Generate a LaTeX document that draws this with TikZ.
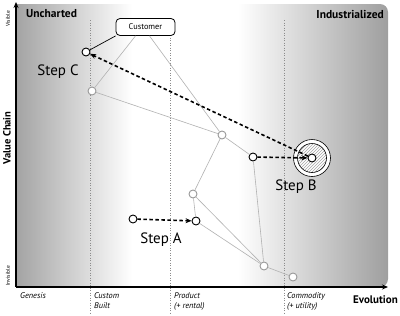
\documentclass[tikz,border=0pt]{standalone}
\usepackage{fontspec}
\setmainfont{PT Sans}
\usetikzlibrary{arrows.meta,patterns}
\begin{document}
\begin{tikzpicture}[x=1pt,y=-1pt,
  comp/.style={circle,draw=black,fill=white,line width=0.9pt,minimum size=8pt,inner sep=0pt},
  gcomp/.style={circle,draw=black!40,fill=white,line width=0.9pt,minimum size=8pt,inner sep=0pt},
  link/.style={draw=black!30,line width=0.6pt},
  move/.style={draw=black,line width=1.6pt,dash pattern=on 3.5pt off 2.5pt,-{Stealth[length=6pt,width=5pt]}},
  guide/.style={draw=black!45,line width=0.5pt,dotted},
  axis/.style={line width=1.8pt,-{Stealth[length=6pt,width=5pt]}},
  steplabel/.style={font=\fontsize{15}{17}\selectfont},
  phase/.style={font=\fontsize{8.3}{10.5}\selectfont\itshape,align=left,anchor=north west,inner sep=0pt},
  corner/.style={font=\fontsize{11.5}{13}\selectfont\bfseries,inner sep=0pt}]
\useasboundingbox (0,0) rectangle (400,316);
% background
\begin{scope}
\clip (16,4) [rounded corners=8pt] -- (388,4) -- (388,287) [sharp corners] -- (16,287) -- cycle;
\fill[white] (16,4) rectangle (388,287);
\shade[left color=black!36,right color=white] (16,4) rectangle (132,287);
\shade[left color=white,right color=black!38] (238,4) rectangle (389,287);
\end{scope}
% guides
\draw[guide] (90,20) -- (90,314);
\draw[guide] (170,20) -- (170,314);
\draw[guide] (284,20) -- (284,314);
% axes
\coordinate (o) at (16,287);
\coordinate (ytop) at (16,2);
\coordinate (xend) at (388,287);
\draw[axis] (o) -- (ytop);
\draw[axis] (o) -- (xend);
% axis labels
\node[corner,anchor=west] (unch) at (26,14) {Uncharted};
\node[corner,anchor=east] (ind) at (384,14) {Industrialized};
\node[corner,rotate=90,font=\fontsize{10.5}{12}\selectfont\bfseries] (vc) at (7,138) {Value Chain};
\node[rotate=90,font=\fontsize{5.5}{6.5}\selectfont,inner sep=0pt] (vis) at (8,19) {Visible};
\node[rotate=90,font=\fontsize{5.5}{6.5}\selectfont,inner sep=0pt] (invis) at (8,276) {Invisible};
\node[corner,anchor=east,font=\fontsize{11}{12}\selectfont\bfseries] (evo) at (398,300) {Evolution};
\node[phase] (gen) at (20,292) {Genesis};
\node[phase] (cust) at (94,292) {Custom\\Built};
\node[phase] (prod) at (174,292) {Product\\(+ rental)};
\node[phase] (comm) at (287,292) {Commodity\\(+ utility)};
% components
\node[draw=black,fill=white,rounded corners=4pt,line width=0.8pt,minimum width=59pt,minimum height=17pt,inner sep=0pt,font=\fontsize{8.3}{9}\selectfont] (customer) at (145.5,27) {Customer};
\node[comp] (c) at (86,52) {};
\node[gcomp] (g1) at (92,91) {};
\node[gcomp] (g2) at (222,135) {};
\node[comp] (b) at (253,157) {};
\node[gcomp] (g3) at (193,194) {};
\node[comp] (a2) at (196,221) {};
\node[comp] (a1) at (133,219) {};
\node[gcomp] (g4) at (264,266) {};
\node[gcomp] (g5) at (293,277) {};
% target
\node[circle,draw=black,fill=white,line width=0.6pt,minimum size=37pt,inner sep=0pt] (tout) at (312,158) {};
\node[circle,draw=black,line width=0.6pt,pattern=north east lines,pattern color=black!35,minimum size=29pt,inner sep=0pt] (tin) at (312,158) {};
\node[comp,minimum size=8pt] (t) at (312,158) {};
% links
\draw[link] ([xshift=-10pt]customer.south) -- (g1);
\draw[link] ([xshift=4pt]customer.south) -- (g2);
\draw[black,line width=0.7pt] (customer.south west) -- (c);
\draw[link] (g1) -- (g2);
\draw[link] (g2) -- (b);
\draw[link] (g2) -- (g3);
\draw[link] (g3) -- (a2);
\draw[link] (g3) -- (g4);
\draw[link] (a2) -- (g4);
\draw[link] (b) -- (g4);
\draw[link] (g4) -- (g5);
% moves
\draw[move] (t) -- (c);
\draw[move] (b) -- (t);
\draw[move] (a1) -- (a2);
% step labels
\node[steplabel] (sc) at (58,72) {Step C};
\node[steplabel] (sb) at (296,187) {Step B};
\node[steplabel] (sa) at (161,240) {Step A};
\end{tikzpicture}
\end{document}
